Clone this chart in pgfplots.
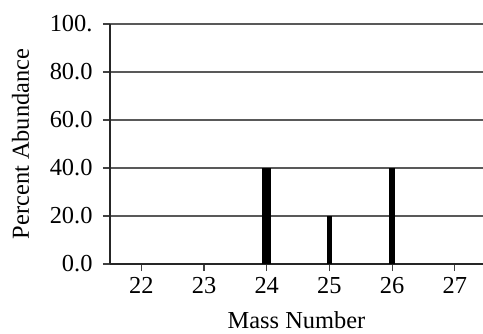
\documentclass[border=0pt]{standalone}
\usepackage{pgfplots}
\pgfplotsset{compat=1.18}
\usepackage{fontspec}
\setmainfont{Liberation Serif}
\begin{document}
\begin{tikzpicture}
\fontsize{12.2}{14}\selectfont
\path[use as bounding box] (-55pt,-34.5pt) rectangle (186.5pt,132pt);
\begin{axis}[
  at={(0,0)}, anchor=south west,
  scale only axis,
  width=186.5pt, height=120pt,
  xmin=21.5, xmax=27.45,
  ymin=0, ymax=100,
  axis x line=bottom, axis y line=left,
  axis line style={line width=1.1pt, draw=black!85, -},
  xtick={22,23,24,25,26,27},
  xticklabels={22,23,24,25,26,27},
  ytick={0,20,40,60,80,100},
  yticklabels={0.0,20.0,40.0,60.0,80.0,100.},
  xtick align=inside, ytick align=outside,
  major tick length=3.5pt,
  tick style={line width=0.6pt, draw=black!75},
  ymajorgrids,
  grid style={line width=0.7pt, draw=black!65},
  xticklabel style={yshift=1pt},
  yticklabel style={xshift=-1pt},
  xlabel={Mass Number},
  ylabel={Percent Abundance},
  xlabel style={yshift=-0.5pt},
  ylabel style={yshift=2pt},
  ybar, 
]
\addplot[fill=black, draw=none, bar width=4.5pt, bar shift=0pt] coordinates {(24,40)};
\addplot[fill=black, draw=none, bar width=2.5pt, bar shift=0pt] coordinates {(25,20)};
\addplot[fill=black, draw=none, bar width=3pt, bar shift=0pt] coordinates {(26,40)};
\end{axis}
\end{tikzpicture}
\end{document}
